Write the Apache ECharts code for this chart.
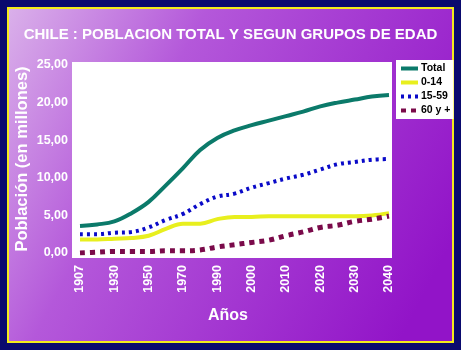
<!DOCTYPE html>
<html>
<head>
<meta charset="utf-8">
<script src="https://cdn.jsdelivr.net/npm/echarts@6/dist/echarts.min.js"></script>
<style>
  html, body { margin: 0; padding: 0; }
  #chart { width: 461px; height: 350px; }
</style>
</head>
<body>
<div id="chart"></div>
<script>
// años (solo los pares llevan etiqueta)
var years = ['1907', '1918', '1930', '1940', '1950', '1960', '1970', '1980', '1990', '1995',
             '2000', '2005', '2010', '2015', '2020', '2025', '2030', '2035', '2040'];
var total  = [3.6, 3.8, 4.2, 5.3, 6.8, 9.0, 11.3, 13.7, 15.3, 16.3, 17.0, 17.6, 18.2, 18.8, 19.5, 20.0, 20.4, 20.8, 21.0];
var g0_14  = [1.8, 1.8, 1.9, 2.0, 2.3, 3.2, 3.9, 3.9, 4.5, 4.8, 4.8, 4.9, 4.9, 4.9, 4.9, 4.9, 4.9, 5.0, 5.3];
var g15_59 = [2.5, 2.5, 2.7, 2.8, 3.4, 4.4, 5.2, 6.5, 7.5, 7.9, 8.7, 9.3, 9.9, 10.4, 11.1, 11.8, 12.1, 12.4, 12.5];
var g60    = [0.0, 0.1, 0.2, 0.2, 0.2, 0.3, 0.3, 0.4, 0.8, 1.1, 1.4, 1.7, 2.3, 2.8, 3.4, 3.7, 4.2, 4.5, 4.9];
var yTicks = { min: 0, max: 25, interval: 5 };

var chart = echarts.init(document.getElementById('chart'));
var white = '#ffffff';

var option = {
  backgroundColor: '#0a0a6e',
  animation: false,
  graphic: [
    { type: 'rect', z: -20, shape: { x: 7, y: 7, width: 447, height: 336 }, style: { fill: '#f4ec1a' } },
    { type: 'rect', z: -19, shape: { x: 9, y: 9, width: 443, height: 332 },
      style: { fill: new echarts.graphic.LinearGradient(0, 0, 1, 0.7, [
        { offset: 0, color: '#dab0ea' },
        { offset: 0.35, color: '#b458da' },
        { offset: 1, color: '#9214c8' }
      ]) } },
    // fondo blanco del área de trazado
    { type: 'rect', z: -18, shape: { x: 72, y: 62, width: 320, height: 196 }, style: { fill: white } }
  ],
  title: [
    { text: 'CHILE : POBLACION TOTAL Y SEGUN GRUPOS DE EDAD', left: 'center', top: 22,
      textStyle: { color: white, fontSize: 15, fontWeight: 'bold', fontFamily: 'Liberation Sans' } },
    { text: 'Años', left: 203, top: 303,
      textStyle: { color: white, fontSize: 16, fontWeight: 'bold', fontFamily: 'Liberation Sans' } }
  ],
  legend: {
    orient: 'vertical', left: 396, top: 60,
    backgroundColor: white, padding: [3, 3, 3, 3],
    itemWidth: 17, itemHeight: 10, itemGap: 3,
    itemStyle: { opacity: 0 },
    lineStyle: { width: 4 },
    textStyle: { color: '#000', fontSize: 10.5, fontWeight: 'bold', fontFamily: 'Liberation Sans', padding: [0, 0, 0, -2] },
    data: ['Total', '0-14', '15-59', '60 y +']
  },
  grid: { left: 80, right: 72, top: 65, bottom: 97 },
  xAxis: {
    type: 'category', data: years, boundaryGap: false,
    axisLine: { show: false }, axisTick: { show: false },
    axisLabel: { interval: 1, rotate: 90, margin: 12, color: white, fontSize: 12.5,
                 fontWeight: 'bold', fontFamily: 'Liberation Sans' }
  },
  yAxis: {
    type: 'value', min: yTicks.min, max: yTicks.max, interval: yTicks.interval,
    name: 'Población (en millones)', nameLocation: 'middle', nameGap: 49, nameMoveOverlap: false,
    nameTextStyle: { color: white, fontSize: 16.5, fontWeight: 'bold', fontFamily: 'Liberation Sans' },
    axisLine: { show: false }, axisTick: { show: false }, splitLine: { show: false },
    axisLabel: { margin: 12, color: white, fontSize: 12.5, fontWeight: 'bold', fontFamily: 'Liberation Sans',
                 formatter: function (v) { return v.toFixed(2).replace('.', ','); } }
  },
  series: [
    { name: 'Total', type: 'line', data: total, smooth: 0.4, symbol: 'none',
      lineStyle: { color: '#0b7a6a', width: 4 }, itemStyle: { color: '#0b7a6a' } },
    { name: '0-14', type: 'line', data: g0_14, smooth: 0.4, symbol: 'none',
      lineStyle: { color: '#e8ef1e', width: 4 }, itemStyle: { color: '#e8ef1e' } },
    { name: '15-59', type: 'line', data: g15_59, smooth: 0.4, symbol: 'none',
      lineStyle: { color: '#0a0ac8', width: 4, type: [3, 4] }, itemStyle: { color: '#0a0ac8' } },
    { name: '60 y +', type: 'line', data: g60, smooth: 0.4, symbol: 'none',
      lineStyle: { color: '#7a0a4a', width: 5, type: [5, 5] }, itemStyle: { color: '#7a0a4a' } }
  ]
};
chart.setOption(option);
</script>
</body>
</html>
